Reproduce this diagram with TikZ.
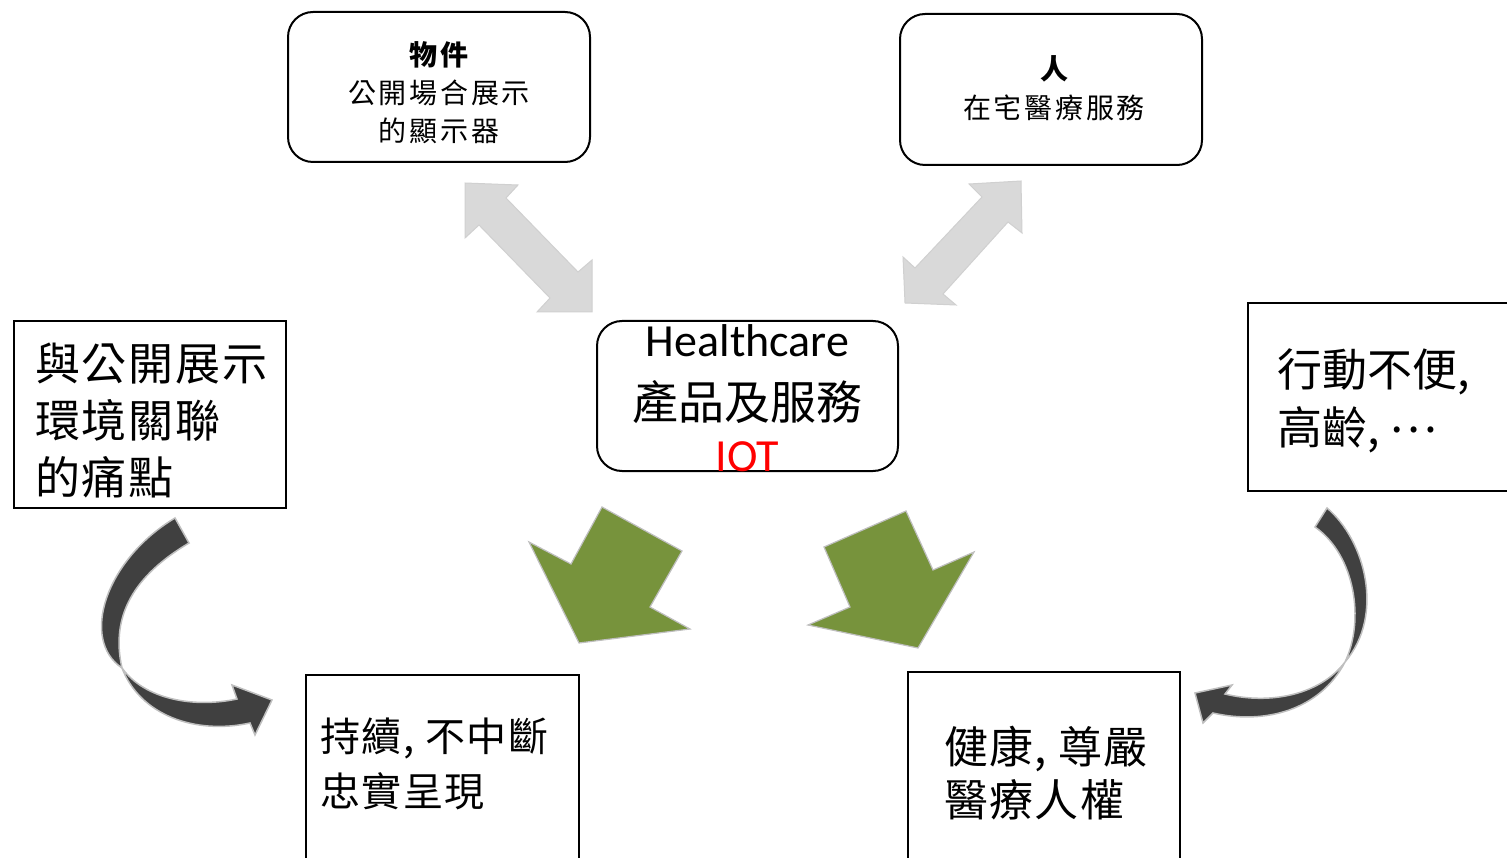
\documentclass[tikz,border=0pt]{standalone}
\usepackage{fontspec}
\setmainfont{Noto Sans CJK TC}
\newfontfamily\latinfont{Carlito}
\definecolor{arrowgrey}{HTML}{D9D9D9}
\definecolor{greyedge}{HTML}{D0D0D0}
\definecolor{arrowgreen}{HTML}{77933C}
\definecolor{curldark}{HTML}{404040}
\definecolor{curledge}{HTML}{BFBFBF}
\tikzset{
  roundbox/.style={draw, line width=2pt, rounded corners=25pt, inner sep=0pt},
  plainbox/.style={draw, line width=2pt, anchor=north west, inner sep=0pt},
  boxtext/.style={inner sep=0pt, align=center},
  sidetext/.style={inner sep=0pt, align=left, anchor=west},
  greyarrow/.style={fill=arrowgrey, draw=greyedge, line width=1pt, line join=miter},
  greenarrow/.style={fill=arrowgreen, draw=curledge, line width=1.2pt},
  curlarrow/.style={fill=curldark, draw=curledge, line width=1.5pt},
}
\begin{document}
\begin{tikzpicture}[x=1pt, y=-1pt]
  \clip (0, 0) rectangle (1507, 858);

  % top boxes
  \node[roundbox, minimum width=302pt, minimum height=150pt] (objbox) at (439, 87) {};
  \node[boxtext, font=\fontsize{28}{38}\selectfont\addfontfeature{LetterSpace=10}] (objtext) at (439, 93)
    {{\bfseries 物件}\\公開場合展示\\的顯示器};
  \node[roundbox, minimum width=302pt, minimum height=151pt] (peoplebox) at (1051, 89.5) {};
  \node[boxtext, font=\fontsize{28}{39}\selectfont\addfontfeature{LetterSpace=10}] (peopletext) at (1054, 88)
    {{\bfseries 人}\\在宅醫療服務};

  % centre box
  \node[roundbox, minimum width=301pt, minimum height=150pt] (corebox) at (747.5, 396) {};
  \node[boxtext, font=\fontsize{46}{58}\selectfont] (coretext) at (747.5, 398)
    {{\latinfont Healthcare}\\[5pt]產品及服務\\[-6pt]{\latinfont\color{red}IOT}};

  % side boxes
  \node[plainbox, minimum width=272pt, minimum height=187pt] (painbox) at (13, 320) {};
  \node[sidetext, font=\fontsize{45}{57}\selectfont\addfontfeature{LetterSpace=4}] (paintext) at (35, 421)
    {與公開展示\\環境關聯\\的痛點};
  \node[plainbox, minimum width=300pt, minimum height=188pt] (mobilitybox) at (1247, 302) {};
  \node[sidetext, font=\fontsize{45}{58}\selectfont] (mobilitytext) at (1277, 401)
    {行動不便,\\高齡, \raisebox{12pt}{…}};

  % bottom boxes
  \node[plainbox, minimum width=273pt, minimum height=220pt] (livebox) at (305, 674) {};
  \node[sidetext, font=\fontsize{40}{55}\selectfont\addfontfeature{LetterSpace=4}] (livetext) at (320, 764)
    {持續, 不中斷\\忠實呈現};
  \node[plainbox, minimum width=272pt, minimum height=220pt] (dignitybox) at (907, 671) {};
  \node[sidetext, font=\fontsize{44}{53}\selectfont\addfontfeature{LetterSpace=3}] (dignitytext) at (944, 773)
    {健康, 尊嚴\\醫療人權};

  % double arrows
  \draw[greyarrow] (465, 183) -- (518, 185) -- (506, 198) -- (578, 272) -- (592, 260)
    -- (592, 312) -- (537, 312) -- (550, 298) -- (479, 225) -- (465, 238) -- cycle;
  \draw[greyarrow] (1021, 181) -- (1022, 233) -- (1008, 222) -- (943, 294) -- (956, 305)
    -- (905, 303) -- (903, 257) -- (915, 268) -- (982, 197) -- (969, 184) -- cycle;

  % green arrows
  \draw[greenarrow] (602, 507) -- (682, 551) -- (650, 607) -- (690, 629)
    -- (579, 643) -- (529, 542) -- (571, 564) -- cycle;
  \draw[greenarrow] (906, 511) -- (933, 570) -- (974, 552) -- (918, 648)
    -- (808, 625) -- (850, 607) -- (824, 547) -- cycle;

  % curved arrows
  \draw[curlarrow] (175, 518) .. controls (105, 560) and (80, 640) .. (122, 668)
    .. controls (140, 715) and (195, 735) .. (250, 723)
    -- (255, 735) -- (272, 700) -- (232, 685) -- (237, 699)
    .. controls (195, 708) and (145, 700) .. (122, 668)
    .. controls (110, 615) and (135, 575) .. (189, 543) -- cycle;
  \draw[curlarrow] (1327, 508) .. controls (1365, 540) and (1385, 615) .. (1345, 662)
    .. controls (1320, 710) and (1265, 725) .. (1213, 713)
    -- (1203, 723) -- (1195, 693) -- (1232, 685) -- (1225, 694)
    .. controls (1270, 705) and (1320, 695) .. (1345, 662)
    .. controls (1365, 620) and (1355, 555) .. (1315, 527) -- cycle;
\end{tikzpicture}
\end{document}
